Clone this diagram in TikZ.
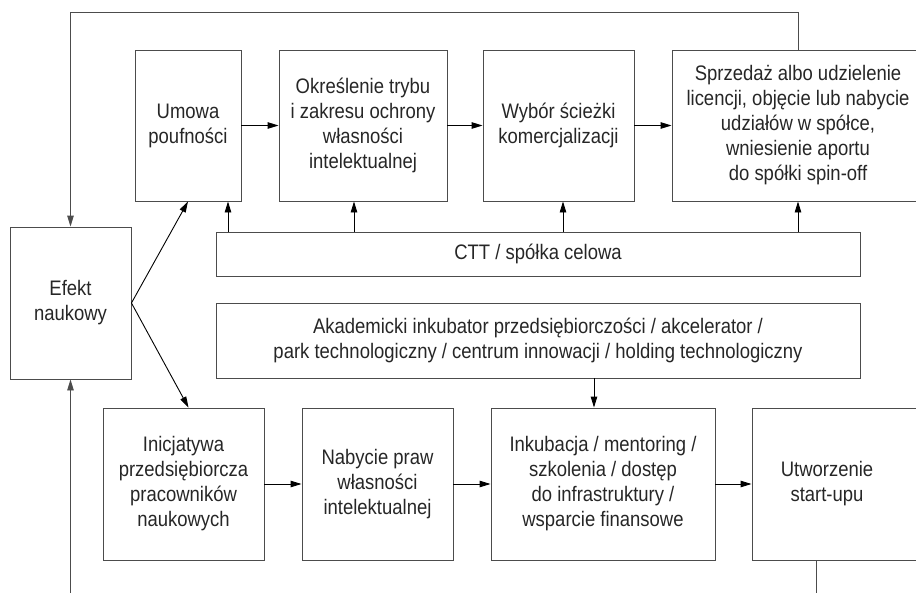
\documentclass[tikz,border=0pt]{standalone}
\usepackage{fontspec}
\setmainfont{Liberation Sans}[FakeStretch=0.88]
\usetikzlibrary{arrows.meta}

\begin{document}
\begin{tikzpicture}[x=1pt,y=-1pt,
  box/.style={draw=black!70,line width=0.9pt,align=center,text=black!85,
    font=\fontsize{21}{25}\selectfont,inner sep=0pt},
  arr/.style={line width=0.9pt,-{Triangle[length=11pt,width=6.5pt]}}]
\useasboundingbox (0,0) rectangle (916,592);
\clip (0,0) rectangle (916,592);

\node[box,minimum width=121,minimum height=152] (efekt) at (70.5,303) {Efekt\\naukowy};

\node[box,minimum width=106,minimum height=151] (umowa) at (188,125.5) {Umowa\\poufności};
\node[box,minimum width=168,minimum height=151] (okr) at (363,125.5) {Określenie trybu\\i zakresu ochrony\\własności\\intelektualnej};
\node[box,minimum width=151,minimum height=151] (wybor) at (558.5,125.5) {Wybór ścieżki\\komercjalizacji};
\node[box,minimum width=252,minimum height=151] (sprz) at (798,125.5) {Sprzedaż albo udzielenie\\licencji, objęcie lub nabycie\\udziałów w spółce,\\wniesienie aportu\\do spółki spin-off};

\node[box,minimum width=644,minimum height=44] (ctt) at (538,254) {CTT / spółka celowa};
\node[box,minimum width=644,minimum height=75] (akad) at (538,340.5) {Akademicki inkubator przedsiębiorczości / akcelerator /\\park technologiczny / centrum innowacji / holding technologiczny};

\node[box,minimum width=161,minimum height=152] (inic) at (183.5,484) {Inicjatywa\\przedsiębiorcza\\pracowników\\naukowych};
\node[box,minimum width=151,minimum height=152] (nab) at (377.5,484) {Nabycie praw\\własności\\intelektualnej};
\node[box,minimum width=224,minimum height=152] (inkub) at (603,484) {Inkubacja / mentoring /\\szkolenia / dostęp\\do infrastruktury /\\wsparcie finansowe};
\node[box,minimum width=190,minimum height=152,
  label={[xshift=-20pt,align=center,text=black!85,font=\fontsize{21}{25}\selectfont]center:Utworzenie\\start-upu}] (utw) at (847,484) {};

% gorny rzad
\draw[arr] (umowa) -- (okr);
\draw[arr] (okr) -- (wybor);
\draw[arr] (wybor) -- (sprz);

% CTT
\draw[arr] ([xshift=40pt]umowa.south |- ctt.north) -- ([xshift=40pt]umowa.south);
\draw[arr] ([xshift=-9pt]okr.south |- ctt.north) -- ([xshift=-9pt]okr.south);
\draw[arr] ([xshift=4.5pt]wybor.south |- ctt.north) -- ([xshift=4.5pt]wybor.south);
\draw[arr] (sprz.south |- ctt.north) -- (sprz.south);

% dolny rzad
\draw[arr] (inic) -- (nab);
\draw[arr] (nab) -- (inkub);
\draw[arr] (inkub.east) -- (utw.west);
\draw[arr] ([xshift=-9pt]inkub.north |- akad.south) -- ([xshift=-9pt]inkub.north);

\draw[arr] (efekt.east) -- (umowa.south);
\draw[arr] (efekt.east) -- ([xshift=5pt]inic.north);

% petle
\draw[arr,draw=black!70] (sprz.north) |- (efekt.north |- 0,12) -- (efekt.north);
\draw[arr,draw=black!70] ([xshift=-31pt]utw.south) |- (efekt.south |- 0,610) -- (efekt.south);
\end{tikzpicture}
\end{document}
